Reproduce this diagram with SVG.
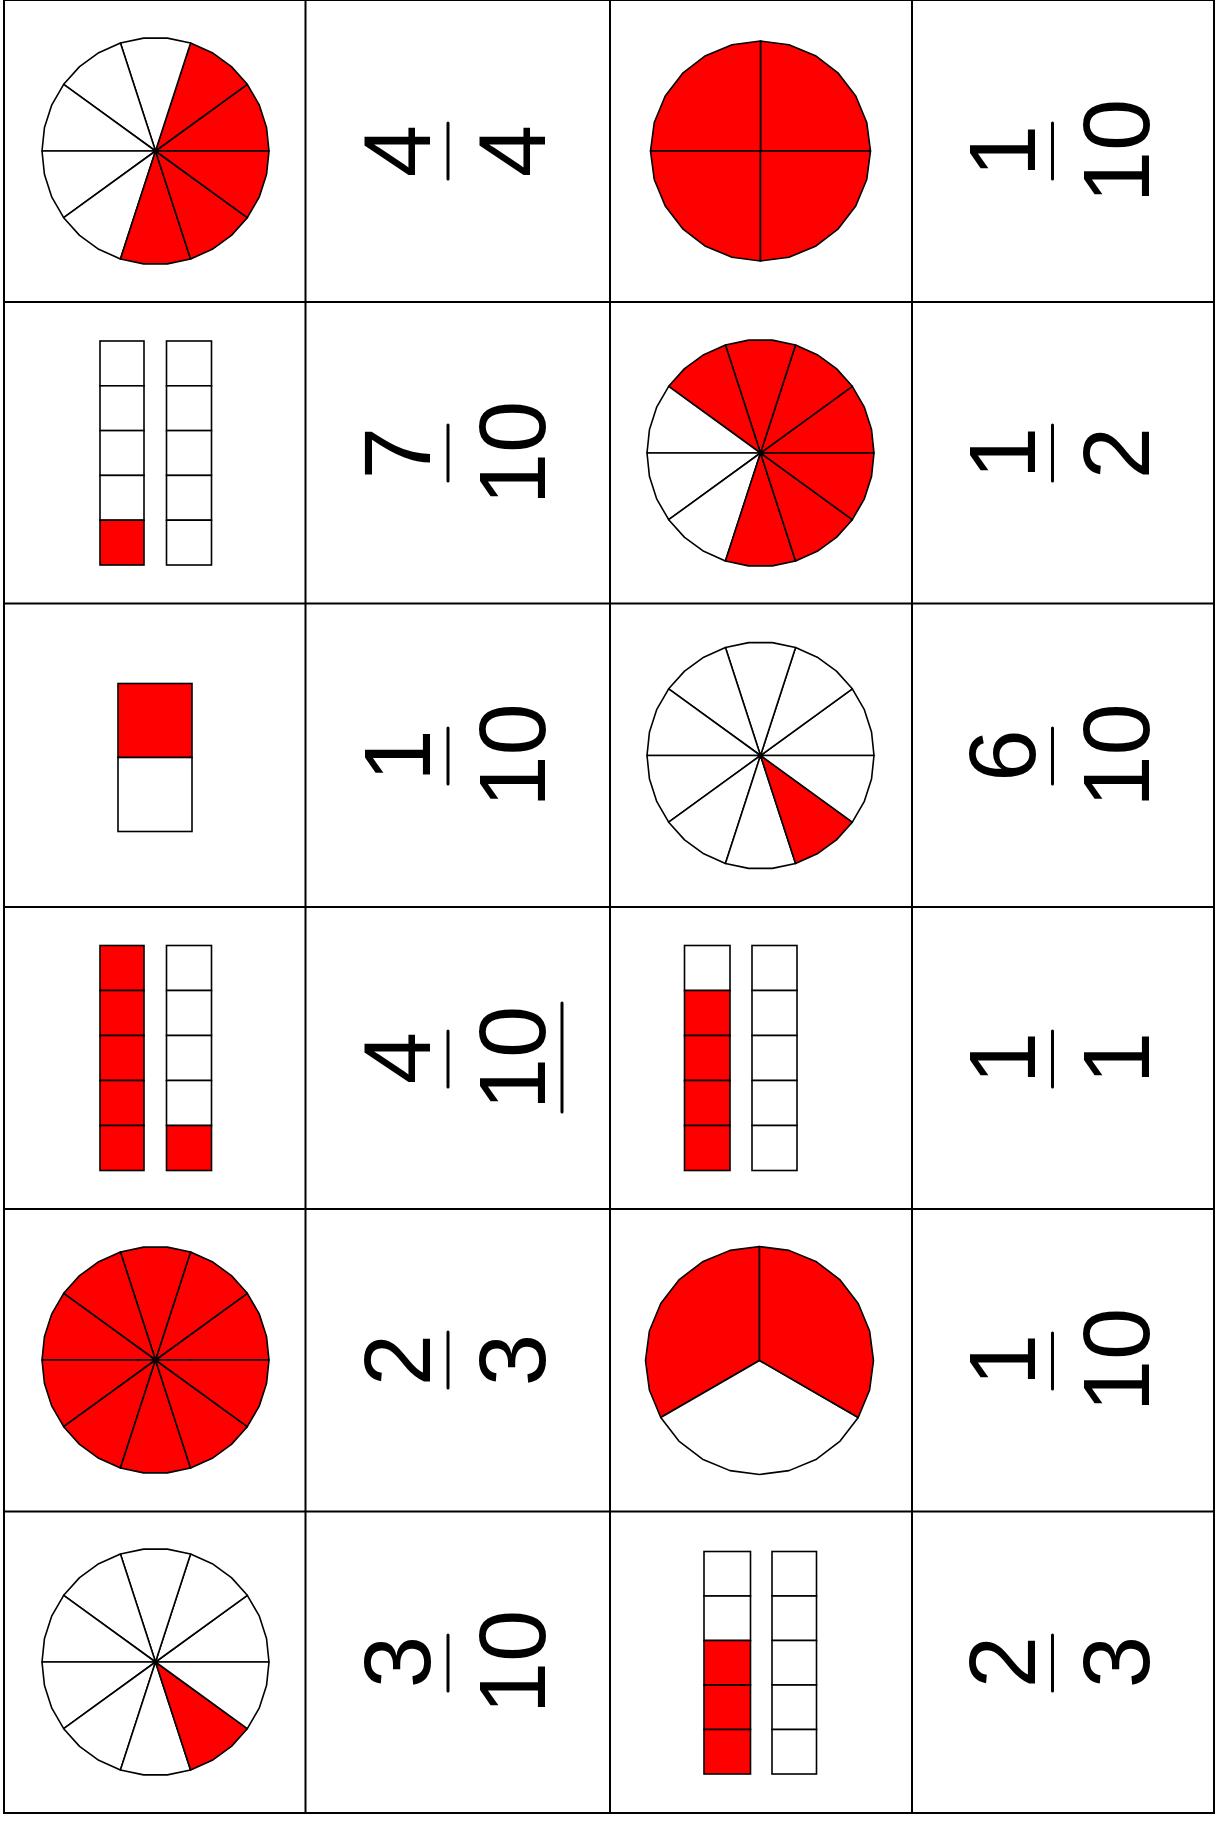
<svg xmlns="http://www.w3.org/2000/svg" width="1217" height="1821" viewBox="0 0 1217 1821">
<style>
.grid line { stroke:#000; stroke-width:2; }
.r { fill:#ff0000; }
.w { fill:#ffffff; }
.pie use { stroke:#000; stroke-width:1.6; stroke-linejoin:round; }
.bar rect { stroke:#000; stroke-width:1.6; }
.t { font-family:"Liberation Sans", Arial, sans-serif; font-size:94px; text-anchor:middle; fill:#000; }
.fb { stroke:#000; stroke-width:3; stroke-linecap:round; }
</style>
<defs>
<path id="s0" d="M0,0 L113.5,0 L111.02,-23.6 L103.69,-46.17 L91.82,-66.71 Z"/>
<path id="s1" d="M0,0 L91.82,-66.71 L75.95,-84.35 L56.75,-98.29 L35.07,-107.95 Z"/>
<path id="s2" d="M0,0 L35.07,-107.95 L11.86,-112.88 L-11.86,-112.88 L-35.07,-107.95 Z"/>
<path id="s3" d="M0,0 L-35.07,-107.95 L-56.75,-98.29 L-75.95,-84.35 L-91.82,-66.71 Z"/>
<path id="s4" d="M0,0 L-91.82,-66.71 L-103.69,-46.17 L-111.02,-23.6 L-113.5,0 Z"/>
<path id="s5" d="M0,0 L-113.5,0 L-111.02,23.6 L-103.69,46.17 L-91.82,66.71 Z"/>
<path id="s6" d="M0,0 L-91.82,66.71 L-75.95,84.35 L-56.75,98.29 L-35.07,107.95 Z"/>
<path id="s7" d="M0,0 L-35.07,107.95 L-11.86,112.88 L11.86,112.88 L35.07,107.95 Z"/>
<path id="s8" d="M0,0 L35.07,107.95 L56.75,98.29 L75.95,84.35 L91.82,66.71 Z"/>
<path id="s9" d="M0,0 L91.82,66.71 L103.69,46.17 L111.02,23.6 L113.5,0 Z"/>
<path id="q0" d="M0,0 L110,0 L106.25,-28.47 L95.26,-55 L77.78,-77.78 L55,-95.26 L28.47,-106.25 L0,-110 Z"/>
<path id="q1" d="M0,0 L0,-110 L-28.47,-106.25 L-55,-95.26 L-77.78,-77.78 L-95.26,-55 L-106.25,-28.47 L-110,0 Z"/>
<path id="q2" d="M0,0 L-110,0 L-106.25,28.47 L-95.26,55 L-77.78,77.78 L-55,95.26 L-28.47,106.25 L0,110 Z"/>
<path id="q3" d="M0,0 L0,110 L28.47,106.25 L55,95.26 L77.78,77.78 L95.26,55 L106.25,28.47 L110,0 Z"/>
<path id="t0" d="M0,0 L0,-114 L-29.51,-110.12 L-57,-98.73 L-80.61,-80.61 L-98.73,-57 L-110.12,-29.51 L-114,0 L-110.12,29.51 L-98.73,57 Z"/>
<path id="t1" d="M0,0 L-98.73,57 L-80.61,80.61 L-57,98.73 L-29.51,110.12 L0,114 L29.51,110.12 L57,98.73 L80.61,80.61 L98.73,57 Z"/>
<path id="t2" d="M0,0 L98.73,57 L110.12,29.51 L114,0 L110.12,-29.51 L98.73,-57 L80.61,-80.61 L57,-98.73 L29.51,-110.12 L0,-114 Z"/>
</defs>
<rect x="0" y="0" width="1217" height="1821" fill="#fff"/>

<g id="grid" class="grid">
<line x1="4" y1="0" x2="4" y2="1813"/>
<line x1="305.5" y1="0" x2="305.5" y2="1813"/>
<line x1="610" y1="0" x2="610" y2="1813"/>
<line x1="912" y1="0" x2="912" y2="1813"/>
<line x1="1214" y1="0" x2="1214" y2="1813"/>
<line x1="3" y1="0" x2="1215" y2="0"/>
<line x1="3" y1="302" x2="1215" y2="302"/>
<line x1="3" y1="603.5" x2="1215" y2="603.5"/>
<line x1="3" y1="907" x2="1215" y2="907"/>
<line x1="3" y1="1209" x2="1215" y2="1209"/>
<line x1="3" y1="1511.5" x2="1215" y2="1511.5"/>
<line x1="3" y1="1813" x2="1215" y2="1813"/>
</g>

<!-- Row 0 -->
<g id="r0c0" class="pie" transform="translate(155.5,151)">
<use href="#s0" class="r"/><use href="#s1" class="r"/><use href="#s2" class="w"/><use href="#s3" class="w"/><use href="#s4" class="w"/>
<use href="#s5" class="w"/><use href="#s6" class="w"/><use href="#s7" class="r"/><use href="#s8" class="r"/><use href="#s9" class="r"/>
</g>
<g id="r0c1">
<text class="t" transform="translate(430,151) rotate(-90)">4</text>
<line class="fb" x1="448" y1="123" x2="448" y2="179"/>
<text class="t" transform="translate(544.5,151) rotate(-90)">4</text>
</g>
<g id="r0c2" class="pie" transform="translate(760.5,151)">
<use href="#q0" class="r"/><use href="#q1" class="r"/><use href="#q2" class="r"/><use href="#q3" class="r"/>
</g>
<g id="r0c3">
<text class="t" transform="translate(1034.5,151) rotate(-90)">1</text>
<line class="fb" x1="1052.5" y1="123" x2="1052.5" y2="179"/>
<text class="t" transform="translate(1149,151) rotate(-90)">10</text>
</g>

<!-- Row 1 -->
<g id="r1c0" class="bar">
<rect x="100" y="341" width="44" height="44.8" class="w"/>
<rect x="100" y="385.8" width="44" height="44.8" class="w"/>
<rect x="100" y="430.6" width="44" height="44.8" class="w"/>
<rect x="100" y="475.4" width="44" height="44.8" class="w"/>
<rect x="100" y="520.2" width="44" height="44.8" class="r"/>
<rect x="166.5" y="341" width="45" height="44.8" class="w"/>
<rect x="166.5" y="385.8" width="45" height="44.8" class="w"/>
<rect x="166.5" y="430.6" width="45" height="44.8" class="w"/>
<rect x="166.5" y="475.4" width="45" height="44.8" class="w"/>
<rect x="166.5" y="520.2" width="45" height="44.8" class="w"/>
</g>
<g id="r1c1">
<text class="t" transform="translate(430,453) rotate(-90)">7</text>
<line class="fb" x1="448" y1="425" x2="448" y2="481"/>
<text class="t" transform="translate(544.5,453) rotate(-90)">10</text>
</g>
<g id="r1c2" class="pie" transform="translate(760.5,453)">
<use href="#s0" class="r"/><use href="#s1" class="r"/><use href="#s2" class="r"/><use href="#s3" class="r"/><use href="#s4" class="w"/>
<use href="#s5" class="w"/><use href="#s6" class="w"/><use href="#s7" class="r"/><use href="#s8" class="r"/><use href="#s9" class="r"/>
</g>
<g id="r1c3">
<text class="t" transform="translate(1034.5,453) rotate(-90)">1</text>
<line class="fb" x1="1052.5" y1="425" x2="1052.5" y2="481"/>
<text class="t" transform="translate(1149,453) rotate(-90)">2</text>
</g>

<!-- Row 2 -->
<g id="r2c0" class="bar">
<rect x="118" y="683.5" width="74" height="74" class="r"/>
<rect x="118" y="757.5" width="74" height="74" class="w"/>
</g>
<g id="r2c1">
<text class="t" transform="translate(430,755.5) rotate(-90)">1</text>
<line class="fb" x1="448" y1="728" x2="448" y2="784"/>
<text class="t" transform="translate(544.5,755.5) rotate(-90)">10</text>
</g>
<g id="r2c2" class="pie" transform="translate(760.5,755.5)">
<use href="#s0" class="w"/><use href="#s1" class="w"/><use href="#s2" class="w"/><use href="#s3" class="w"/><use href="#s4" class="w"/>
<use href="#s5" class="w"/><use href="#s6" class="w"/><use href="#s7" class="w"/><use href="#s8" class="r"/><use href="#s9" class="w"/>
</g>
<g id="r2c3">
<text class="t" transform="translate(1034.5,755.5) rotate(-90)">6</text>
<line class="fb" x1="1052.5" y1="728" x2="1052.5" y2="784"/>
<text class="t" transform="translate(1149,755.5) rotate(-90)">10</text>
</g>

<!-- Row 3 -->
<g id="r3c0" class="bar">
<rect x="100" y="945.5" width="44" height="45" class="r"/>
<rect x="100" y="990.5" width="44" height="45" class="r"/>
<rect x="100" y="1035.5" width="44" height="45" class="r"/>
<rect x="100" y="1080.5" width="44" height="45" class="r"/>
<rect x="100" y="1125.5" width="44" height="45" class="r"/>
<rect x="166.5" y="945.5" width="45" height="45" class="w"/>
<rect x="166.5" y="990.5" width="45" height="45" class="w"/>
<rect x="166.5" y="1035.5" width="45" height="45" class="w"/>
<rect x="166.5" y="1080.5" width="45" height="45" class="w"/>
<rect x="166.5" y="1125.5" width="45" height="45" class="r"/>
</g>
<g id="r3c1">
<text class="t" transform="translate(430,1058) rotate(-90)">4</text>
<line class="fb" x1="448" y1="1031" x2="448" y2="1087"/>
<text class="t" transform="translate(544.5,1058) rotate(-90)">10</text>
<line class="fb" x1="562" y1="1003" x2="562" y2="1112"/>
</g>
<g id="r3c2" class="bar">
<rect x="684.5" y="945.5" width="45.5" height="45" class="w"/>
<rect x="684.5" y="990.5" width="45.5" height="45" class="r"/>
<rect x="684.5" y="1035.5" width="45.5" height="45" class="r"/>
<rect x="684.5" y="1080.5" width="45.5" height="45" class="r"/>
<rect x="684.5" y="1125.5" width="45.5" height="45" class="r"/>
<rect x="752" y="945.5" width="45" height="45" class="w"/>
<rect x="752" y="990.5" width="45" height="45" class="w"/>
<rect x="752" y="1035.5" width="45" height="45" class="w"/>
<rect x="752" y="1080.5" width="45" height="45" class="w"/>
<rect x="752" y="1125.5" width="45" height="45" class="w"/>
</g>
<g id="r3c3">
<text class="t" transform="translate(1034.5,1058) rotate(-90)">1</text>
<line class="fb" x1="1052.5" y1="1031" x2="1052.5" y2="1087"/>
<text class="t" transform="translate(1149,1058) rotate(-90)">1</text>
</g>

<!-- Row 4 -->
<g id="r4c0" class="pie" transform="translate(155.5,1360)">
<use href="#s0" class="r"/><use href="#s1" class="r"/><use href="#s2" class="r"/><use href="#s3" class="r"/><use href="#s4" class="r"/>
<use href="#s5" class="r"/><use href="#s6" class="r"/><use href="#s7" class="r"/><use href="#s8" class="r"/><use href="#s9" class="r"/>
</g>
<g id="r4c1">
<text class="t" transform="translate(430,1360) rotate(-90)">2</text>
<line class="fb" x1="448" y1="1332" x2="448" y2="1388"/>
<text class="t" transform="translate(544.5,1360) rotate(-90)">3</text>
</g>
<g id="r4c2" class="pie" transform="translate(759.5,1360.5)">
<use href="#t0" class="r"/><use href="#t1" class="w"/><use href="#t2" class="r"/>
</g>
<g id="r4c3">
<text class="t" transform="translate(1034.5,1360) rotate(-90)">1</text>
<line class="fb" x1="1052.5" y1="1333" x2="1052.5" y2="1389"/>
<text class="t" transform="translate(1149,1360) rotate(-90)">10</text>
</g>

<!-- Row 5 -->
<g id="r5c0" class="pie" transform="translate(155.5,1662)">
<use href="#s0" class="w"/><use href="#s1" class="w"/><use href="#s2" class="w"/><use href="#s3" class="w"/><use href="#s4" class="w"/>
<use href="#s5" class="w"/><use href="#s6" class="w"/><use href="#s7" class="w"/><use href="#s8" class="r"/><use href="#s9" class="w"/>
</g>
<g id="r5c1">
<text class="t" transform="translate(430,1662) rotate(-90)">3</text>
<line class="fb" x1="448" y1="1635" x2="448" y2="1691"/>
<text class="t" transform="translate(544.5,1662) rotate(-90)">10</text>
</g>
<g id="r5c2" class="bar">
<rect x="704" y="1551.5" width="46.5" height="44.5" class="w"/>
<rect x="704" y="1596" width="46.5" height="44.5" class="w"/>
<rect x="704" y="1640.5" width="46.5" height="44.5" class="r"/>
<rect x="704" y="1685" width="46.5" height="44.5" class="r"/>
<rect x="704" y="1729.5" width="46.5" height="44.5" class="r"/>
<rect x="772" y="1551.5" width="44.5" height="44.5" class="w"/>
<rect x="772" y="1596" width="44.5" height="44.5" class="w"/>
<rect x="772" y="1640.5" width="44.5" height="44.5" class="w"/>
<rect x="772" y="1685" width="44.5" height="44.5" class="w"/>
<rect x="772" y="1729.5" width="44.5" height="44.5" class="w"/>
</g>
<g id="r5c3">
<text class="t" transform="translate(1034.5,1662) rotate(-90)">2</text>
<line class="fb" x1="1052.5" y1="1635" x2="1052.5" y2="1691"/>
<text class="t" transform="translate(1149,1662) rotate(-90)">3</text>
</g>
</svg>
